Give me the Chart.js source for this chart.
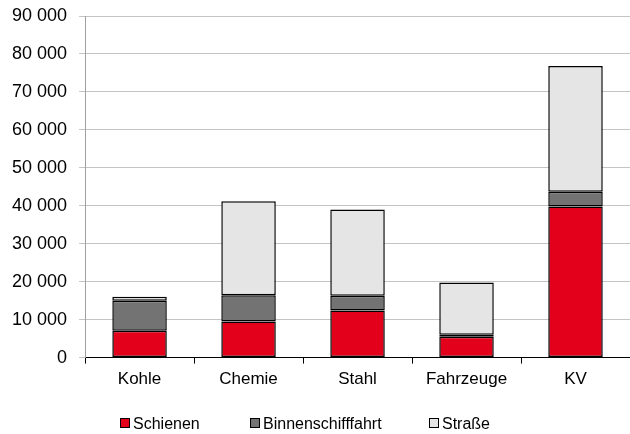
<!DOCTYPE html>
<html>
<head>
<meta charset="utf-8">
<script src="https://cdn.jsdelivr.net/npm/chart.js@4/dist/chart.umd.min.js"></script>
<style>
  html, body { margin: 0; padding: 0; background: #fff; }
  #wrap { position: relative; width: 630px; height: 434px; overflow: hidden; }
  #chart { position: absolute; left: 0; top: -5px; }
  #legend {
    position: absolute; left: 0; top: 415px; width: 630px;
    font-family: "Liberation Sans", Arial, sans-serif; font-size: 16px; color: #000;
  }
  #legend span.item { position: absolute; top: 0; white-space: nowrap; }
  #legend span.box {
    display: inline-block; width: 8px; height: 8px; border: 1px solid #000;
    margin-right: 3px; vertical-align: 1px;
  }
</style>
</head>
<body>
<div id="wrap">
  <canvas id="chart" width="630" height="439"></canvas>
  <div id="legend"></div>
</div>
<script>
const categories = ['Kohle', 'Chemie', 'Stahl', 'Fahrzeuge', 'KV'];
const schienen = [7100, 9500, 12400, 5500, 39800];
const binnenschifffahrt = [7900, 6900, 3900, 500, 3900];
const strasse = [1000, 24800, 22700, 13800, 33100];

const seriesNames = ['Schienen', 'Binnenschifffahrt', 'Straße'];
const seriesColors = ['#e2001a', '#737373', '#e5e5e5'];
const legendLeft = [120, 250, 429];

const font = "'Liberation Sans', Arial, sans-serif";

function formatThousands(v) {
  return String(v).replace(/\B(?=(\d{3})+(?!\d))/g, ' ');
}

const ctx = document.getElementById('chart').getContext('2d');

const chart = new Chart(ctx, {
  type: 'bar',
  data: {
    labels: categories,
    datasets: [schienen, binnenschifffahrt, strasse].map((values, i) => ({
      label: seriesNames[i],
      data: values,
      backgroundColor: seriesColors[i],
      borderColor: '#000',
      borderWidth: 1.5,
      borderSkipped: false,
      barPercentage: 0.5,
      categoryPercentage: 1
    }))
  },
  options: {
    responsive: false,
    animation: false,
    layout: { padding: { top: 0, right: 0, bottom: 38, left: 0 } },
    plugins: {
      legend: { display: false },
      tooltip: { enabled: false }
    },
    scales: {
      x: {
        stacked: true,
        grid: {
          drawOnChartArea: false,
          drawTicks: true,
          tickLength: 6,
          color: '#000'
        },
        border: { color: '#000', width: 1 },
        ticks: { color: '#000', font: { family: font, size: 17 }, padding: 6 }
      },
      y: {
        stacked: true,
        min: 0,
        max: 90000,
        grid: { color: '#c4c4c4', tickLength: 6, lineWidth: 1 },
        border: { color: '#a0a0a0', width: 1 },
        ticks: {
          stepSize: 10000,
          color: '#000',
          padding: 12,
          font: { family: font, size: 18, lineHeight: 1 },
          callback: v => formatThousands(v)
        }
      }
    }
  }
});

// legend below the chart, built from the datasets
const legendEl = document.getElementById('legend');
chart.data.datasets.forEach((ds, i) => {
  const item = document.createElement('span');
  item.className = 'item';
  item.style.left = legendLeft[i] + 'px';
  item.innerHTML = '<span class="box" style="background:' + ds.backgroundColor + '"></span>' + ds.label;
  legendEl.appendChild(item);
});
</script>
</body>
</html>
